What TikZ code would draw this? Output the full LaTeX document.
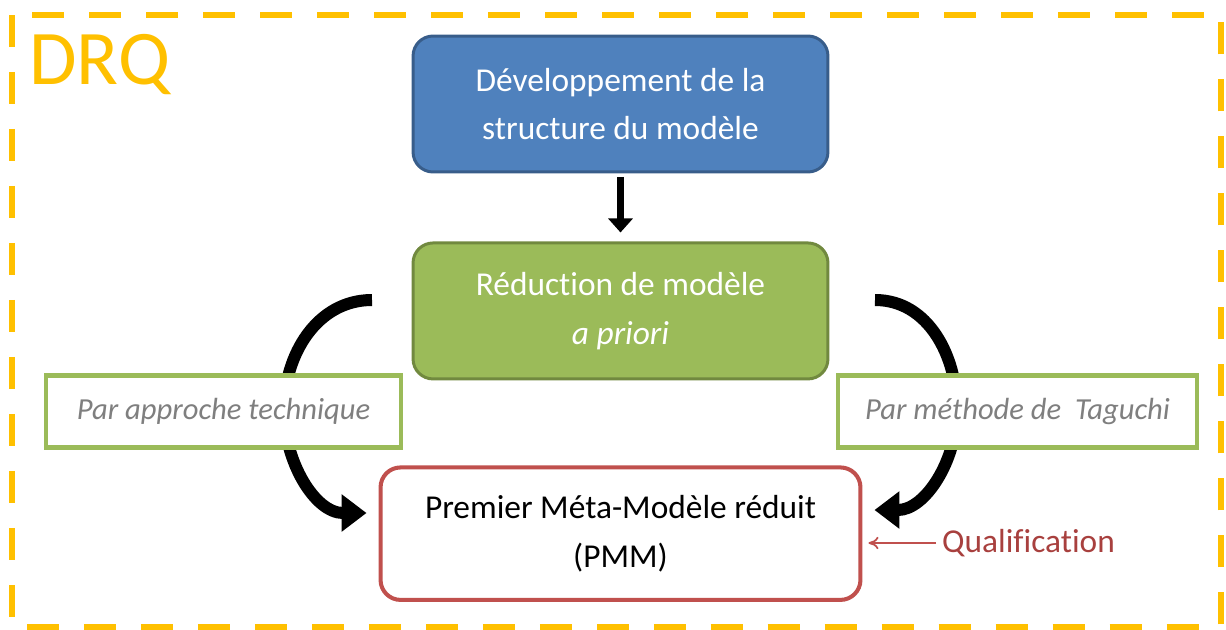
\documentclass[tikz,border=0pt]{standalone}
\usepackage{fontspec}
\setmainfont{Carlito}[Ligatures=NoCommon]
\usetikzlibrary{positioning,arrows.meta}

\definecolor{drqorange}{HTML}{FFC000}
\definecolor{devblue}{HTML}{4F81BD}
\definecolor{devblueline}{HTML}{385D8A}
\definecolor{redgreen}{HTML}{9BBB59}
\definecolor{redgreenline}{HTML}{71893F}
\definecolor{pmmred}{HTML}{C0504D}
\definecolor{qualred}{HTML}{A8403E}
\definecolor{labelgray}{HTML}{7F7F7F}

\tikzset{
  stepbox/.style={rounded corners=0.4cm, line width=1.7pt, align=center,
    minimum width=8.3cm, minimum height=2.72cm, font=\fontsize{19}{27.5}\selectfont},
  devbox/.style={stepbox, fill=devblue, draw=devblueline, text=white},
  reducbox/.style={stepbox, fill=redgreen, draw=redgreenline, text=white},
  pmmbox/.style={stepbox, fill=white, draw=pmmred, line width=2.3pt,
    minimum width=9.6cm, minimum height=2.65cm, text=black},
  waybox/.style={draw=redgreen, fill=white, line width=2.3pt, minimum height=1.44cm,
    text=labelgray, font=\fontsize{17.4}{20}\selectfont\itshape},
  downarrow/.style={line width=0.15cm, -{Triangle[width=0.48cm, length=0.28cm]}},
  wayarrow/.style={line width=0.24cm, -{Triangle[width=0.72cm, length=0.5cm]}},
  qualarrow/.style={draw=pmmred, line width=1pt, -{To[length=0.2cm, width=0.25cm]}}
}

\begin{document}
\begin{tikzpicture}[x=0.02cm, y=0.02cm]
  \useasboundingbox (0,0) rectangle (1226,-629);
  % DRQ frame
  \draw[drqorange, line width=0.12cm, dash pattern=on 0.64cm off 0.5cm]
    (12,-15) rectangle (1221,-627);
  \node (drq) [anchor=north west, inner sep=0pt, text=drqorange,
    font=\fontsize{44}{44}\selectfont] at (29,-34) {DRQ};

  % main steps
  \node (dev) [devbox] at (620.5,-104) {Développement de la\\structure du modèle};
  \node (reduc) [reducbox, below=1.36cm of dev] {Réduction de modèle\\\textit{a priori}};
  \node (pmm) [pmmbox, below=1.7cm of reduc] {Premier Méta-Modèle réduit\\(PMM)};

  \draw[downarrow, shorten <=2pt, shorten >=0.18cm] (dev) -- (reduc);

  % the two ways
  \coordinate (lstart) at (372,-300);
  \coordinate (rstart) at (875,-300);
  \draw[wayarrow] (lstart) to[out=180, in=90] (284,-410) to[out=-90, in=180]
    ([xshift=-0.24cm]pmm.west |- 0,-513);
  \draw[wayarrow] (rstart) to[out=0, in=90] (957,-410) to[out=-90, in=0]
    ([xshift=0.24cm]pmm.east |- 0,-510);

  \node (techn) [waybox, minimum width=7.1cm] at (223.5,-411.5) {Par approche technique};
  \node (taguchi) [waybox, minimum width=7.18cm] at (1017.5,-411.5) {Par méthode de\ \ Taguchi};

  % qualification
  \node (qual) [anchor=west, text=qualred, font=\fontsize{19}{22}\selectfont] at (936,-543) {Qualification};
  \draw[qualarrow, shorten >=0.12cm] (qual.west) -- (qual.west -| pmm.east);
\end{tikzpicture}
\end{document}
